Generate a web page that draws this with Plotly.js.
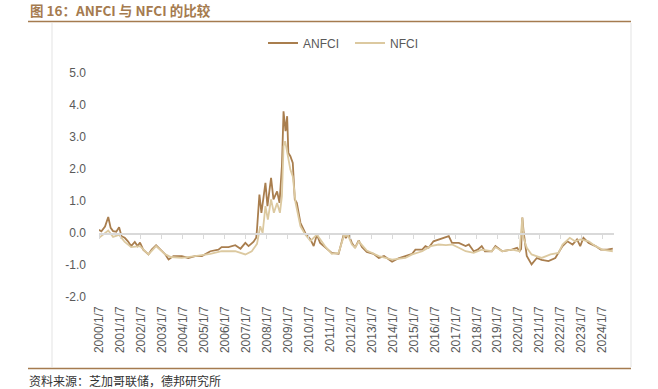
<!DOCTYPE html>
<html>
<head>
<meta charset="utf-8">
<script src="https://cdn.plot.ly/plotly-3.0.1.min.js"></script>
<style>
html,body{margin:0;padding:0;background:#fff;}
#chart{width:658px;height:389px;}
</style>
</head>
<body>
<div id="chart"></div>
<script>
// ---- data ----
const anfciDates = ["2000-01-07","2000-02-18","2000-04-21","2000-06-16","2000-07-28","2000-09-08","2000-11-03","2000-12-22",
"2001-02-02","2001-03-30","2001-05-25","2001-07-20","2001-09-21","2001-11-09","2001-12-21",
"2002-02-15","2002-05-17","2002-07-12","2002-09-27","2002-12-06",
"2003-03-07","2003-05-02","2003-07-25","2003-12-19",
"2004-04-09","2004-08-06","2004-12-03",
"2005-04-29","2005-09-16","2005-11-11",
"2006-03-10","2006-07-07","2006-10-06","2006-12-29",
"2007-02-23","2007-05-18","2007-07-06","2007-07-20","2007-08-31","2007-10-05","2007-12-14",
"2008-01-18","2008-03-21","2008-05-02","2008-07-04","2008-08-15","2008-09-26","2008-10-24","2008-11-28","2008-12-26",
"2009-01-16","2009-02-20","2009-04-03","2009-05-08","2009-06-12","2009-08-14","2009-11-06",
"2010-02-05","2010-04-02","2010-05-28","2010-07-23","2010-10-15",
"2011-02-11","2011-06-10","2011-08-05","2011-09-09","2011-10-14","2011-11-25",
"2012-01-27","2012-03-23","2012-05-25","2012-07-20","2012-10-12",
"2013-02-08","2013-05-10","2013-08-09","2013-12-27",
"2014-04-18","2014-08-15","2014-12-12",
"2015-02-06","2015-06-05","2015-07-31","2015-09-25","2015-12-18",
"2016-03-18","2016-06-10","2016-09-09","2016-11-04",
"2017-03-03","2017-06-30","2017-08-25","2017-11-17",
"2018-01-26","2018-04-06","2018-06-01","2018-09-28","2018-11-30",
"2019-03-29","2019-09-13","2019-12-13",
"2020-01-24","2020-02-21","2020-03-13","2020-04-03","2020-05-29","2020-08-21","2020-11-20",
"2021-02-12","2021-06-11","2021-10-08","2021-12-03",
"2022-02-11","2022-05-06","2022-08-05","2022-10-21","2022-12-16",
"2023-02-10","2023-05-12","2023-09-08","2023-12-08",
"2024-03-29","2024-07-05"];
const anfciValues = [0.10,0.05,0.20,0.50,0.16,0.06,0.04,0.18,
-0.10,-0.15,-0.26,-0.41,-0.28,-0.41,-0.30,
-0.52,-0.67,-0.52,-0.38,-0.52,
-0.67,-0.83,-0.72,-0.72,
-0.78,-0.72,-0.72,
-0.57,-0.52,-0.44,
-0.44,-0.38,-0.49,-0.31,
-0.41,-0.28,-0.15,0.11,1.20,0.63,1.57,
0.84,1.72,1.05,1.30,0.94,2.09,3.80,3.18,3.65,
2.50,2.40,2.19,1.05,0.94,0.32,0.00,
-0.20,-0.41,-0.05,-0.31,-0.44,
-0.62,-0.65,-0.26,-0.03,-0.16,-0.03,
-0.31,-0.46,-0.23,-0.44,-0.59,
-0.65,-0.78,-0.72,-0.90,
-0.79,-0.72,-0.65,
-0.52,-0.52,-0.41,-0.46,-0.26,
-0.20,-0.15,-0.10,-0.31,
-0.31,-0.41,-0.36,-0.57,
-0.52,-0.41,-0.57,-0.57,-0.41,
-0.57,-0.52,-0.46,
-0.57,-0.50,0.48,0.06,-0.72,-0.98,-0.78,
-0.84,-0.88,-0.78,-0.62,
-0.41,-0.26,-0.36,-0.20,-0.41,
-0.15,-0.31,-0.41,-0.52,
-0.52,-0.49];

const nfciDates = ["2000-01-07","2000-06-16","2000-09-08","2000-12-22",
"2001-03-30","2001-07-20","2001-12-21",
"2002-05-17","2002-09-27",
"2003-03-07","2003-06-13","2003-12-19",
"2004-08-06","2005-04-29","2005-11-11",
"2006-07-07","2006-12-29",
"2007-04-20","2007-07-20","2007-09-14","2007-10-26","2007-12-14",
"2008-01-25","2008-03-21","2008-05-09","2008-07-04","2008-08-22","2008-09-26","2008-10-24","2008-11-21","2008-12-19",
"2009-02-20","2009-04-03","2009-05-22","2009-08-14","2009-11-06",
"2010-02-05","2010-05-28","2010-10-15",
"2011-02-11","2011-06-10","2011-09-09","2011-11-25",
"2012-01-27","2012-03-23","2012-05-25","2012-10-12",
"2013-05-10","2013-12-27",
"2014-08-15","2014-12-12",
"2015-06-05","2015-10-30",
"2016-03-18","2016-07-22","2016-11-04",
"2017-03-03","2017-06-30","2017-11-17",
"2018-04-06","2018-09-28","2018-11-30",
"2019-03-29","2019-09-13",
"2020-01-24","2020-03-13","2020-04-03","2020-05-29","2020-08-21",
"2021-02-12","2021-07-16","2021-12-03",
"2022-02-11","2022-06-17","2022-09-16","2022-12-16",
"2023-05-12","2023-09-08",
"2024-01-05","2024-07-05"];
const nfciValues = [-0.15,0.08,-0.12,-0.06,
-0.28,-0.44,-0.41,
-0.67,-0.41,
-0.67,-0.75,-0.78,
-0.72,-0.65,-0.57,
-0.57,-0.67,
-0.57,-0.34,0.21,0.00,0.84,
0.42,1.05,0.63,0.94,0.63,1.15,2.71,2.87,2.60,
1.98,1.77,0.94,0.21,-0.05,
-0.25,-0.05,-0.41,
-0.65,-0.62,-0.09,-0.09,
-0.36,-0.46,-0.26,-0.55,
-0.72,-0.83,
-0.78,-0.67,
-0.57,-0.41,
-0.36,-0.38,-0.36,
-0.46,-0.57,-0.62,
-0.52,-0.57,-0.44,
-0.57,-0.52,
-0.57,0.48,-0.15,-0.46,-0.67,
-0.78,-0.67,-0.62,
-0.36,-0.15,-0.26,-0.20,
-0.26,-0.41,
-0.52,-0.57];

const tickDates = ["2000-01-07","2001-01-07","2002-01-07","2003-01-07","2004-01-07","2005-01-07","2006-01-07","2007-01-07",
"2008-01-07","2009-01-07","2010-01-07","2011-01-07","2012-01-07","2013-01-07","2014-01-07","2015-01-07","2016-01-07",
"2017-01-07","2018-01-07","2019-01-07","2020-01-07","2021-01-07","2022-01-07","2023-01-07","2024-01-07"];
const tickLabels = ["2000/1/7","2001/1/7","2002/1/7","2003/1/7","2004/1/7","2005/1/7","2006/1/7","2007/1/7",
"2008/1/7","2009/1/7","2010/1/7","2011/1/7","2012/1/7","2013/1/7","2014/1/7","2015/1/7","2016/1/7",
"2017/1/7","2018/1/7","2019/1/7","2020/1/7","2021/1/7","2022/1/7","2023/1/7","2024/1/7"];
const yTicks = [-2,-1,0,1,2,3,4,5];
const yLabels = ["-2.0","-1.0","0.0","1.0","2.0","3.0","4.0","5.0"];

// ---- styling ----
const cAN = "#A97E4E", cNF = "#DCC9A0", brown = "#A57B4F";
const W = 658, H = 389, L = 99, R = 44, T = 73, B = 92;
const pw = W - L - R, ph = H - T - B;
const px = x => (x - L) / pw;          // pixel -> paper x
const py = y => (H - B - y) / ph;      // pixel -> paper y
const yMin = -2, yMax = 5;

const traces = [
  {x: anfciDates, y: anfciValues, name: "ANFCI", type: "scatter", mode: "lines",
   line: {color: cAN, width: 1.8}, xaxis: "x", yaxis: "y"},
  {x: nfciDates, y: nfciValues, name: "NFCI", type: "scatter", mode: "lines",
   line: {color: cNF, width: 1.8}, xaxis: "x2", yaxis: "y"}
];

const layout = {
  width: W, height: H,
  margin: {l: L, r: R, t: T, b: B},
  paper_bgcolor: "#fff", plot_bgcolor: "rgba(0,0,0,0)",
  font: {family: "Liberation Sans, Arial, sans-serif", size: 12, color: "#595959"},
  showlegend: true,
  legend: {orientation: "h", x: px(263), y: py(43), xanchor: "left", yanchor: "middle",
           font: {size: 12, color: "#595959"}, bgcolor: "rgba(0,0,0,0)", itemwidth: 30,
           entrywidth: 42, tracegroupgap: 0},
  xaxis: {type: "date", range: ["2000-01-07", "2024-07-26"], tickmode: "array",
          tickvals: tickDates, ticktext: tickLabels, tickangle: -90, ticks: "",
          showgrid: false, zeroline: false, showline: false,
          tickfont: {size: 12, color: "#595959"}, ticklabelstandoff: 6},
  xaxis2: {type: "date", matches: "x", overlaying: "x", anchor: "free",
           position: (0 - yMin) / (yMax - yMin), tickmode: "array", tickvals: tickDates,
           showticklabels: false, ticks: "outside", ticklen: 4, tickcolor: "#D9D9D9", tickwidth: 1,
           showline: true, linecolor: "#D9D9D9", linewidth: 1.5, showgrid: false, zeroline: false},
  yaxis: {range: [yMin, yMax], tickmode: "array", tickvals: yTicks, ticktext: yLabels,
          showgrid: false, zeroline: false, showline: false, ticks: "",
          tickfont: {size: 12, color: "#595959"}, ticklabelstandoff: 12},
  annotations: [
    {text: "<b>图 16：ANFCI 与 NFCI 的比较</b>", xref: "paper", yref: "paper",
     x: px(29), y: py(9.5), xanchor: "left", yanchor: "middle", showarrow: false, borderpad: 0,
     font: {family: "Noto Sans CJK SC, sans-serif", size: 13.5, color: brown}},
    {text: "资料来源：芝加哥联储，德邦研究所", xref: "paper", yref: "paper",
     x: px(28), y: py(380), xanchor: "left", yanchor: "middle", showarrow: false, borderpad: 0,
     font: {family: "Noto Sans CJK SC, sans-serif", size: 12, color: "#333333"}}
  ],
  shapes: [
    {type: "line", xref: "paper", yref: "paper", x0: px(28), x1: px(631), y0: py(21.5), y1: py(21.5),
     line: {color: brown, width: 1.5}},
    {type: "line", xref: "paper", yref: "paper", x0: px(28), x1: px(631), y0: py(368.5), y1: py(368.5),
     line: {color: brown, width: 1.5}},
    {type: "line", xref: "paper", yref: "paper", x0: px(52), x1: px(52), y0: py(23), y1: py(367),
     line: {color: "#E3E3E3", width: 1}},
    {type: "line", xref: "paper", yref: "paper", x0: px(631), x1: px(631), y0: py(23), y1: py(367),
     line: {color: "#E3E3E3", width: 1}}
  ]
};

Plotly.newPlot("chart", traces, layout, {displayModeBar: false, staticPlot: true});
</script>
</body>
</html>
